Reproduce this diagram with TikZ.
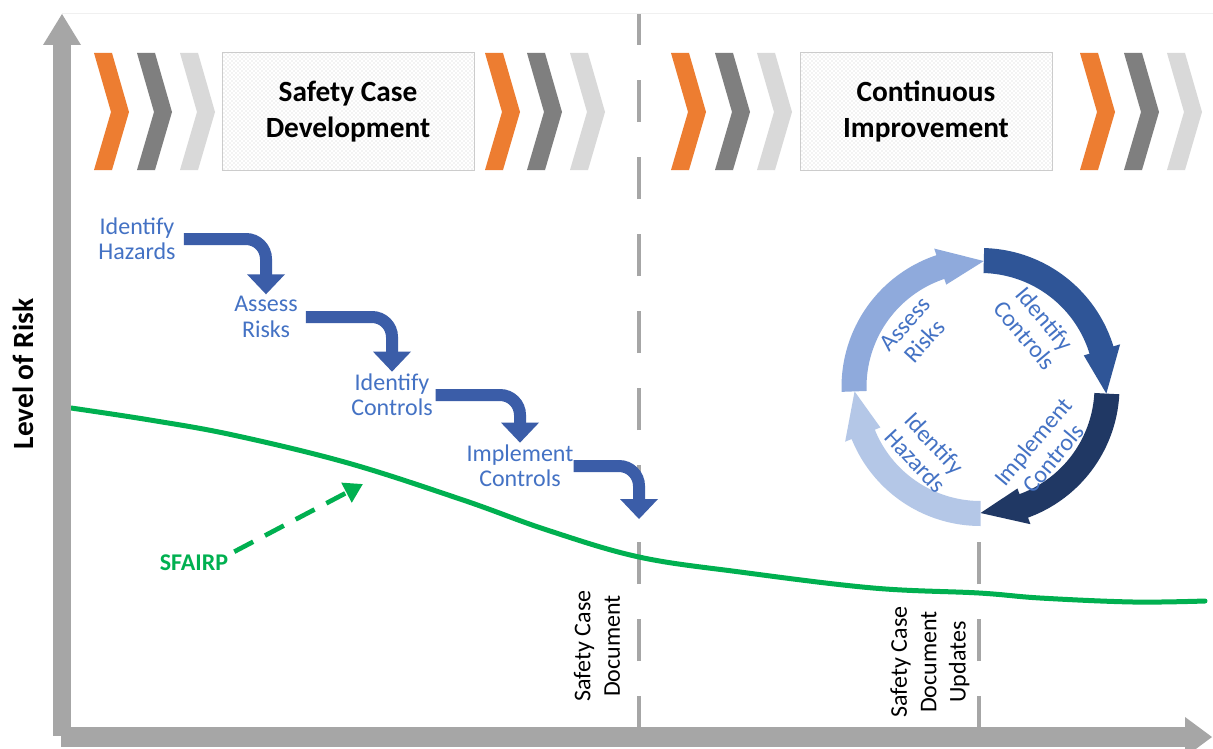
\documentclass[tikz,border=0pt]{standalone}
\usepackage{fontspec}
\setmainfont{Carlito}
\usetikzlibrary{arrows.meta,calc,patterns}
\definecolor{orng}{HTML}{ED7D31}
\definecolor{dgray}{HTML}{7F7F7F}
\definecolor{lgray}{HTML}{D9D9D9}
\definecolor{axisgray}{HTML}{A6A6A6}
\definecolor{stepblue}{HTML}{3B5DA8}
\definecolor{txtblue}{HTML}{4472C4}
\definecolor{grn}{HTML}{00B050}
\definecolor{ringA}{HTML}{2F5597}
\definecolor{ringB}{HTML}{203864}
\definecolor{ringC}{HTML}{B4C7E7}
\definecolor{ringD}{HTML}{8FAADC}
\newcommand\mychev[2]{\fill[#2] (#1,53) -- ++(18,0) -- ++(17,59) -- ++(-17,58) -- ++(-18,0) -- ++(17,-58) -- cycle;}
\newcommand\ringarr[4]{\fill[#1] plot[domain=#2:#3, samples=40] (\x:139) -- (#3:146) -- (#4:126) -- (#3:108) -- plot[domain=#3:#2, samples=40] (\x:114) -- cycle;}
\newcommand\stepconn[3]{%
  \draw[stepline, shorten <=#3] (#1.east) -| ($(#2)+(0,-19)$);
  \fill[stepblue] ($(#2)+(-19,-20)$) -- (#2) -- ($(#2)+(19,-20)$) -- cycle;}
\begin{document}
\begin{tikzpicture}[x=0.75pt,y=-0.75pt,
  titlebox/.style={draw=gray!40, line width=0.75pt, pattern=crosshatch dots, pattern color=gray!40,
    minimum width=189pt, minimum height=87.75pt, align=center, inner sep=0pt,
    font=\bfseries\fontsize{22}{27.5}\selectfont},
  steplabel/.style={text=txtblue, align=center, inner sep=0pt, font=\fontsize{18}{19}\selectfont},
  ringlabel/.style={text=txtblue, align=center, inner sep=0pt, font=\fontsize{18}{19.5}\selectfont},
  doclabel/.style={text=black, align=center, inner sep=0pt, rotate=90, font=\fontsize{18}{22}\selectfont},
  stepline/.style={draw=stepblue, line width=9pt, rounded corners=15pt},
  vdash/.style={draw=axisgray, line width=3pt, dash pattern=on 31.5pt off 26.25pt},
  riskline/.style={draw=grn, line width=3.75pt, line cap=round},
  sfarrow/.style={draw=grn, line width=3.5pt, dash pattern=on 16pt off 10pt, -{Triangle[width=16pt,length=14pt]}}
]
\useasboundingbox (0,0) rectangle (1213,749);
\fill[white] (0,0) rectangle (1213,749);
% faint top border
\draw[gray!12, line width=0.75pt] (62,14) -- (1213,14);
% dashed milestone lines
\draw[vdash] (639,738) -- (639,14);
\draw[vdash] (979,738) -- (979,542);
% chevrons
\mychev{94}{orng}\mychev{137}{dgray}\mychev{180}{lgray}
\mychev{485}{orng}\mychev{527}{dgray}\mychev{570}{lgray}
\mychev{671}{orng}\mychev{715}{dgray}\mychev{757}{lgray}
\mychev{1080}{orng}\mychev{1124}{dgray}\mychev{1167}{lgray}
% title boxes
\node[titlebox] (sdev) at (348,111.5) {Safety Case\\Development};
\node[titlebox] (cimp) at (926,111.5) {Continuous\\Improvement};
% risk curve
\draw[riskline] plot[smooth, tension=0.6] coordinates {(71,408) (150,420) (233,435) (348,463) (463,500) (547,530) (639,557) (740,572) (873,588) (979,593) (1040,598) (1133,602) (1205,601)};
% step labels
\node[steplabel] (h1) at (137,239) {Identify\\Hazards};
\node[steplabel] (a1) at (266,317) {Assess\\Risks};
\node[steplabel] (c1) at (392,395) {Identify\\Controls};
\node[steplabel] (i1) at (520,466) {Implement\\Controls};
\coordinate (t1) at ($(a1.north)+(0,-2)$);
\coordinate (t2) at ($(c1.north)+(0,-2)$);
\coordinate (t3) at ($(i1.north)+(0,-2)$);
\coordinate (doc) at (639,519);
\stepconn{h1}{t1}{6pt}
\stepconn{a1}{t2}{6pt}
\stepconn{c1}{t3}{2pt}
\stepconn{i1}{doc}{0pt}
% cycle
\begin{scope}[shift={(980.5,387)}]
\ringarr{ringA}{-88.5}{-17}{3}
\ringarr{ringB}{3}{70}{90}
\ringarr{ringC}{90}{158}{178}
\ringarr{ringD}{178}{251.5}{271.5}
\end{scope}
\node[ringlabel, rotate=48] (rA) at (915,333) {Assess\\Risks};
\node[ringlabel, rotate=-50] (rC) at (1035,327) {Identify\\Controls};
\node[ringlabel, rotate=-47] (rH) at (925,452) {Identify\\Hazards};
\node[ringlabel, rotate=50] (rI) at (1043,450) {Implement\\Controls};
% axes
\fill[axisgray] (53,45) rectangle (71,736);
\fill[axisgray] (43,45) -- (62,14) -- (81,45) -- cycle;
\fill[axisgray] (61,727) rectangle (1186,747);
\fill[axisgray] (1185,717) -- (1212,737) -- (1185,757) -- cycle;
% labels
\node[rotate=90, inner sep=0pt, font=\bfseries\fontsize{22}{26}\selectfont] (lvl) at (23,374) {Level of Risk};
\node[doclabel] (scd) at (597,646) {Safety Case\\Document};
\node[doclabel] (scu) at (930,662) {Safety Case\\Document\\Updates};
\node[text=grn, inner sep=0pt, font=\bfseries\fontsize{18}{20}\selectfont] (sf) at (194,563) {SFAIRP};
\coordinate (sfend) at (363,484);
\draw[sfarrow, shorten <=5pt] (sf.north east) -- (sfend);
\end{tikzpicture}
\end{document}
